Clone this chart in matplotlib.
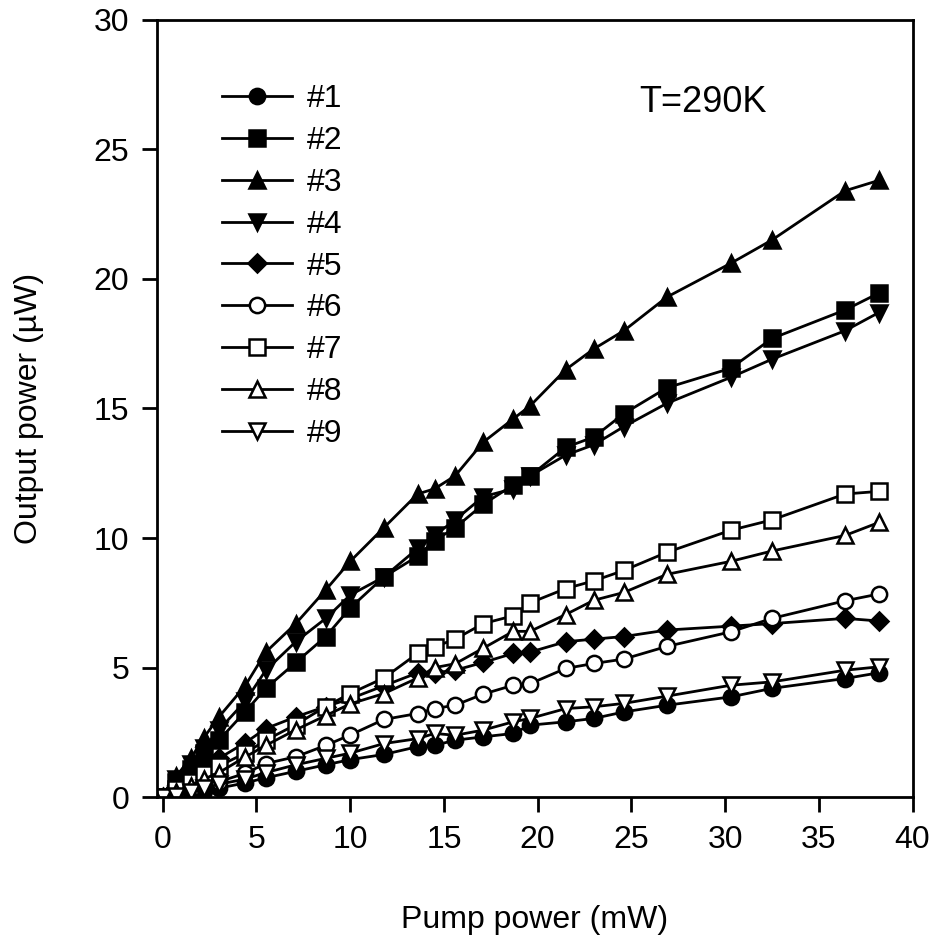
import matplotlib.pyplot as plt

plt.rcParams['font.family'] = ['Liberation Sans', 'DejaVu Sans']

# Pump power (mW), shared by all samples
pump = [0, 0.7, 1.5, 2.2, 3.0, 4.4, 5.5, 7.1, 8.7, 10.0, 11.8, 13.6, 14.5,
        15.6, 17.1, 18.7, 19.6, 21.5, 23.0, 24.6, 26.9, 30.3, 32.5, 36.4, 38.2]

# Output power (uW) for samples #1..#9
s1 = [0, 0.05, 0.15, 0.25, 0.35, 0.55, 0.75, 1.0, 1.25, 1.45, 1.65, 1.95, 2.0,
      2.2, 2.33, 2.46, 2.78, 2.91, 3.04, 3.29, 3.55, 3.87, 4.2, 4.58, 4.8]
s2 = [0, 0.6, 1.1, 1.7, 2.2, 3.3, 4.2, 5.2, 6.2, 7.3, 8.5, 9.3, 9.9,
      10.4, 11.3, 12.05, 12.4, 13.5, 13.9, 14.8, 15.8, 16.55, 17.7, 18.8, 19.45]
s3 = [0, 0.8, 1.5, 2.3, 3.1, 4.3, 5.6, 6.7, 8.0, 9.1, 10.4, 11.7, 11.9,
      12.4, 13.7, 14.6, 15.1, 16.5, 17.3, 18.0, 19.3, 20.6, 21.5, 23.4, 23.8]
s4 = [0, 0.7, 1.3, 1.9, 2.6, 3.7, 4.9, 6.0, 6.9, 7.8, 8.5, 9.6, 10.1,
      10.7, 11.6, 11.9, 12.4, 13.2, 13.6, 14.3, 15.2, 16.2, 16.9, 18.0, 18.7]
s5 = [0, 0.4, 0.9, 1.2, 1.5, 2.1, 2.65, 3.1, 3.5, 3.8, 4.3, 4.8, 4.8,
      4.9, 5.2, 5.55, 5.6, 6.0, 6.1, 6.2, 6.45, 6.6, 6.7, 6.9, 6.8]
s6 = [0, 0.1, 0.3, 0.5, 0.6, 0.92, 1.3, 1.56, 2.0, 2.4, 3.0, 3.23, 3.42,
      3.55, 3.98, 4.32, 4.38, 4.97, 5.16, 5.33, 5.82, 6.38, 6.9, 7.58, 7.84]
s7 = [0, 0.3, 0.6, 0.9, 1.2, 1.7, 2.2, 2.8, 3.5, 4.0, 4.6, 5.55, 5.8,
      6.1, 6.7, 7.0, 7.5, 8.05, 8.35, 8.75, 9.45, 10.3, 10.7, 11.7, 11.8]
s8 = [0, 0.2, 0.45, 0.7, 0.95, 1.55, 2.0, 2.6, 3.15, 3.6, 4.0, 4.6, 5.0,
      5.15, 5.75, 6.4, 6.4, 7.05, 7.6, 7.9, 8.6, 9.1, 9.5, 10.1, 10.6]
s9 = [0, 0.05, 0.2, 0.35, 0.5, 0.7, 0.95, 1.25, 1.5, 1.7, 2.07, 2.26, 2.46,
      2.39, 2.59, 2.91, 3.04, 3.42, 3.49, 3.62, 3.9, 4.32, 4.45, 4.9, 5.03]

series = [s1, s2, s3, s4, s5, s6, s7, s8, s9]
labels = ['#1', '#2', '#3', '#4', '#5', '#6', '#7', '#8', '#9']
markers = ['o', 's', '^', 'v', 'D', 'o', 's', '^', 'v']
filled = [True, True, True, True, True, False, False, False, False]

fig = plt.figure(figsize=(9.35, 9.39), dpi=100)
ax = fig.add_axes([0.168, 0.151, 0.808, 0.828])

for ys, lab, mk, fl in zip(series, labels, markers, filled):
    ms = 9.5 if mk == 'D' else 11
    ax.plot(pump, ys, color='black', lw=2.0, marker=mk, ms=ms,
            mfc='black' if fl else 'white', mec='black', mew=1.8, label=lab)

ax.set_xlim(-0.3, 40)
ax.set_ylim(0, 30)
ax.set_xticks(range(0, 41, 5))
ax.set_yticks(range(0, 31, 5))
ax.tick_params(direction='out', length=11, width=2.0, labelsize=23, pad=9)
for sp in ax.spines.values():
    sp.set_linewidth(2.0)

ax.set_xlabel('Pump power (mW)', fontsize=23, labelpad=36)
ax.set_ylabel('Output power (\u00b5W)', fontsize=23, labelpad=36)

ax.text(25.4, 26.8, 'T=290K', fontsize=26, va='center', ha='left')

ax.legend(loc='upper left', bbox_to_anchor=(0.086, 0.917), frameon=False,
          fontsize=23, handlelength=2.2, handletextpad=0.45, labelspacing=0.37,
          borderpad=0, borderaxespad=0)

plt.savefig('out.png', dpi=100)
